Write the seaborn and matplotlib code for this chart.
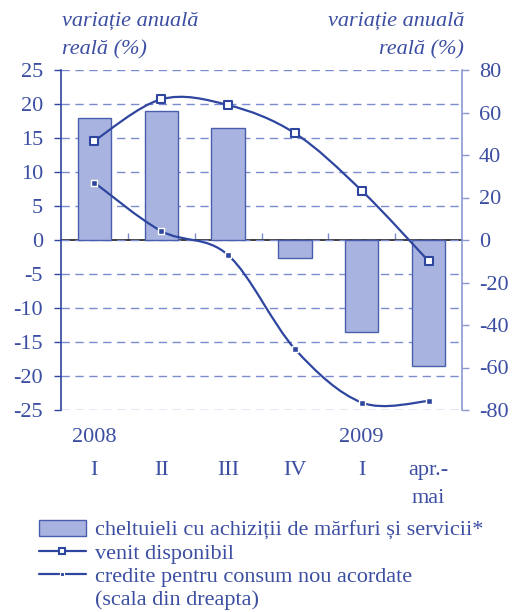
"""Consum populatie: cheltuieli, venit disponibil si credite de consum."""

import matplotlib

matplotlib.use("Agg")
import matplotlib.pyplot as plt
import numpy as np
import pandas as pd
import seaborn as sns
from matplotlib.lines import Line2D
from matplotlib.patches import PathPatch, Patch
from matplotlib.path import Path

periods = ["I 2008", "II 2008", "III 2008", "IV 2008", "I 2009", "apr.-mai 2009"]
tick_labels = ["I", "II", "III", "IV", "I", "apr.-\nmai"]
years = {0: "2008", 4: "2009"}
cheltuieli = [18.0, 18.9, 16.5, -2.7, -13.6, -18.5]
venit = [14.6, 20.7, 19.85, 15.7, 7.25, -3.1]
credite = [27.0, 4.2, -7.1, -51.3, -76.5, -75.8]

TXT = "#3b4ea2"
LINE = "#2f46a0"
GRID = "#7b8bcd"
BAR = "#a9b3df"


def smooth_path(xs, ys):
    # Excel-like smoothed line: Catmull-Rom segments drawn as cubic Beziers
    pts = np.column_stack([xs, ys]).astype(float)
    n = len(pts)
    verts = [pts[0]]
    codes = [Path.MOVETO]
    for i in range(n - 1):
        p0 = pts[max(i - 1, 0)]
        p1 = pts[i]
        p2 = pts[i + 1]
        p3 = pts[min(i + 2, n - 1)]
        verts += [p1 + (p2 - p0) / 6, p2 - (p3 - p1) / 6, p2]
        codes += [Path.CURVE4] * 3
    return Path(verts, codes)


sns.set_theme(style="white")
plt.rcParams["font.family"] = ["Liberation Serif", "DejaVu Serif"]
plt.rcParams["axes.unicode_minus"] = False

df = pd.DataFrame({"perioada": periods, "cheltuieli": cheltuieli})
x = np.arange(len(periods))

fig = plt.figure(figsize=(5.3, 6.12), dpi=100)
ax = fig.add_axes([61 / 530, 1 - 410 / 612, 401 / 530, 340 / 612])

sns.barplot(data=df, x="perioada", y="cheltuieli", order=periods, color=BAR,
            width=0.5, edgecolor="#4a5eae", linewidth=1.0, saturation=1, ax=ax, zorder=2)
for p in ax.patches:
    p.set_facecolor(BAR)

ax.set_xlim(-0.5, len(periods) - 0.5)
ax.set_ylim(-25, 25)
ax.set_yticks(range(-25, 26, 5))
ax.yaxis.grid(True, color=GRID, linestyle=(0, (6, 4)), linewidth=1.0, zorder=0)
ax.set_axisbelow(True)
for side in ["top", "right", "bottom"]:
    ax.spines[side].set_visible(False)
ax.spines["left"].set_color(LINE)
ax.spines["left"].set_linewidth(1.2)
ax.tick_params(axis="y", direction="out", length=5, width=1, color=LINE,
               labelcolor=TXT, labelsize=16, pad=8, left=True)
ax.set_xticks(x)
ax.set_xticklabels(tick_labels, va="top", linespacing=1.6)
ax.tick_params(axis="x", length=0, labelsize=16, labelcolor=TXT, pad=37)
ax.set_xlabel("")
ax.set_ylabel("")

# zero line with ticks between categories
zero = ax.secondary_xaxis(0.5)
zero.set_xticks(np.arange(0.5, len(periods) - 1, 1.0))
zero.set_xticklabels([])
zero.tick_params(direction="out", length=5, width=1, color=GRID)
zero.spines["bottom"].set_color(GRID)
zero.spines["bottom"].set_linewidth(1.2)

for i, yr in years.items():
    ax.text(i, -0.08, yr, transform=ax.get_xaxis_transform(), ha="center",
            va="center", fontsize=16, color=TXT)

# venit disponibil (left axis)
ax.add_patch(PathPatch(smooth_path(x, venit), fill=False, edgecolor=LINE, lw=1.6, zorder=4))
sns.scatterplot(x=x, y=venit, marker="s", s=30, color="white", edgecolor=LINE,
                linewidth=1.5, ax=ax, zorder=5)

# credite pentru consum (right axis)
ax2 = ax.twinx()
ax2.set_ylim(-80, 80)
ax2.set_yticks(range(-80, 81, 20))
ax2.grid(False)
for side in ["top", "left", "bottom"]:
    ax2.spines[side].set_visible(False)
ax2.spines["right"].set_color("#8a98d2")
ax2.spines["right"].set_linewidth(1.2)
ax2.tick_params(axis="y", direction="out", length=5, width=1, color="#8a98d2",
                labelcolor=TXT, labelsize=16, pad=7, right=True)
ax2.add_patch(PathPatch(smooth_path(x, credite), fill=False, edgecolor=LINE, lw=1.6, zorder=4))
sns.scatterplot(x=x, y=credite, marker="s", s=14, color=LINE, edgecolor="white",
                linewidth=1.0, ax=ax2, zorder=5)
ax2.set_ylabel("")

fig.text(62 / 530, 1 - 35.5 / 612, "variație anuală\nreală (%)", ha="left", va="center",
         style="italic", fontsize=16, color=TXT, linespacing=1.65)
fig.text(464 / 530, 1 - 35.5 / 612, "variație anuală\nreală (%)", ha="right", va="center",
         style="italic", fontsize=16, color=TXT, linespacing=1.65, multialignment="right")

handles = [
    Patch(facecolor=BAR, edgecolor="#4a5eae"),
    Line2D([], [], color=LINE, lw=1.6, marker="s", markersize=5, markerfacecolor="white",
           markeredgecolor=LINE, markeredgewidth=1.5),
    Line2D([], [], color=LINE, lw=1.6, marker="s", markersize=3.5, markerfacecolor=LINE,
           markeredgecolor="white", markeredgewidth=0.8),
    Line2D([], [], color="none"),
]
labels = [
    "cheltuieli cu achiziții de mărfuri și servicii*",
    "venit disponibil",
    "credite pentru consum nou acordate",
    "(scala din dreapta)",
]
leg = fig.legend(handles, labels, loc="upper left", bbox_to_anchor=(39 / 530, 1 - 520 / 612),
                 frameon=False, fontsize=16, handlelength=2.1, handleheight=0.7,
                 handletextpad=0.4, labelspacing=0.12, borderaxespad=0, borderpad=0)
for t in leg.get_texts():
    t.set_color(TXT)

fig.savefig("out.png", dpi=100)
